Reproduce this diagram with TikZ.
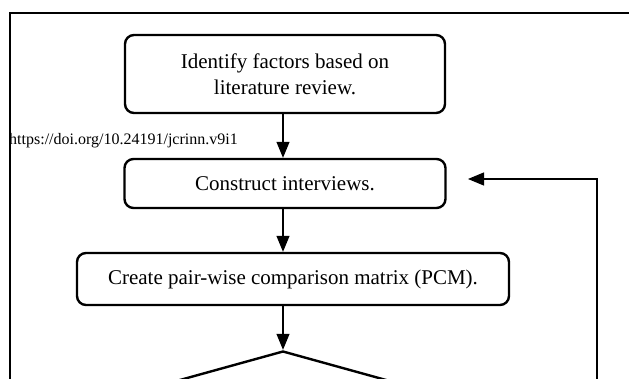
\documentclass[tikz,border=0pt]{standalone}
\usepackage{fontspec}
\setmainfont{Liberation Serif}
\usetikzlibrary{arrows.meta,shapes.geometric}
\begin{document}
\begin{tikzpicture}[x=1pt,y=-1pt,
	procbox/.style={rectangle,rounded corners=9pt,draw,line width=2.4pt,align=center,inner sep=0pt,font=\fontsize{21}{26}\selectfont},
	flow/.style={-{Triangle[width=13pt,length=16pt]},line width=1.2pt}]
		\clip (0,0) rectangle (629,379);

		\draw (9,141) node (doi) [anchor=west,inner sep=0pt,font=\fontsize{16}{18}\selectfont] {https://doi.org/10.24191/jcrinn.v9i1};
		\draw[line width=2.4pt] (10,13) rectangle (700,450);

		\draw (285,74) node (ident) [procbox,minimum width=320pt,minimum height=78pt] {Identify factors based on\\literature review.};
		\draw (285,183.5) node (constr) [procbox,minimum width=321pt,minimum height=49pt] {Construct interviews.};
		\draw (293,279) node (pcm) [procbox,minimum width=432pt,minimum height=52pt] {Create pair-wise comparison matrix (PCM).};
		\draw (283,397) node (check) [diamond,draw,line width=2.4pt,inner sep=0pt,minimum width=330pt,minimum height=92pt] {};

		\coordinate (fbstart) at (597,390);
		\coordinate (fbend) at (468,179);

		\draw[flow] (ident.south -| check.north) -- (constr.north -| check.north);
		\draw[flow] (constr.south -| check.north) -- (pcm.north -| check.north);
		\draw[flow] (pcm.south -| check.north) -- (check.north);
		\draw[flow] (fbstart) |- (fbend);
	\end{tikzpicture}
\end{document}
